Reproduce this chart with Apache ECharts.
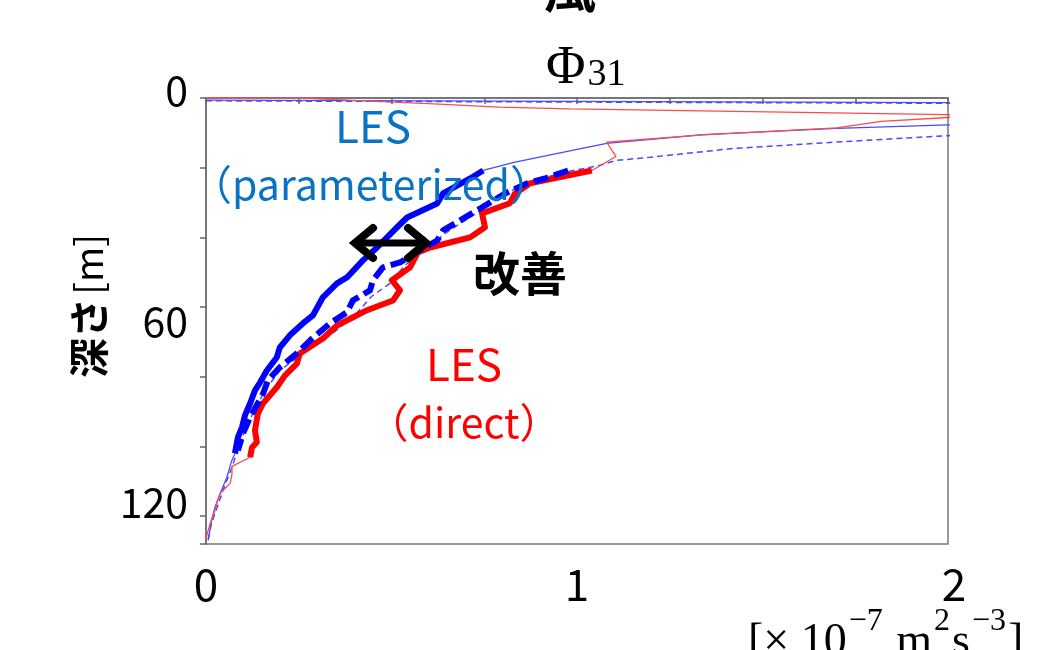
<!DOCTYPE html>
<html><head><meta charset="utf-8">
<script src="https://cdn.jsdelivr.net/npm/echarts@6/dist/echarts.min.js"></script>
<style>html,body{margin:0;padding:0;background:#fff}#c{width:1052px;height:650px}</style>
</head><body><div id="c"></div>
<script>
// ---- data: [value (x10^-7 m^2 s^-3), depth (m)] ----
const xLabelTicks = [0, 1, 2];
const yLabelTicks = [0, 60, 120];

const directSurface = [[0,0],[0.275,0.1],[0.6,1.6],[0.79,2.6],[0.98,3.1],[2.0,4.8],[2.5,5.2],[2.0,5.6],[1.82,6.7],[1.70,8.6],[1.34,10.6],[1.08,12.7],[1.105,16.8],[1.06,19.6]];
const directThick = [[1.040,20.8],[0.873,24.5],[0.865,25.1],[0.833,27.4],[0.819,30.2],[0.744,33.1],[0.752,37.1],[0.712,40.0],[0.604,42.9],[0.571,44.3],[0.550,48.6],[0.501,52.3],[0.523,55.2],[0.504,58.1],[0.434,60.9],[0.353,65.3],[0.315,69.0],[0.253,73.3],[0.245,76.2],[0.213,79.6],[0.191,83.0],[0.154,87.6],[0.140,90.5],[0.132,95.4],[0.137,98.8],[0.124,100.3],[0.119,103.1]];
const directBottom = [[0.070,105.7],[0.070,108.0],[0.065,110.6],[0.038,113.5],[0.030,115.8],[0.027,117.5],[0.011,122.1],[0.0,126.5]];

const paramSurface = [[0,0.6],[2.5,1.5],[2.4,7.5],[2.0,7.7],[1.70,8.7],[1.34,10.5],[1.08,13.0],[1.01,14.5],[0.83,18.5]];
const paramThick = [[0.747,20.8],[0.712,23.1],[0.639,27.4],[0.623,30.3],[0.542,34.3],[0.515,37.1],[0.488,40.0],[0.461,42.9],[0.423,46.6],[0.380,51.5],[0.353,53.2],[0.315,57.2],[0.288,62.4],[0.261,64.7],[0.226,68.1],[0.199,71.6],[0.191,74.4],[0.164,78.2],[0.146,81.6],[0.132,83.9],[0.119,87.6],[0.105,91.1],[0.097,94.5],[0.086,97.4],[0.078,102.0]];
const paramBottom = [[0.069,104.2],[0.056,108.9],[0.038,113.6],[0.024,117.5],[0.015,121.3],[0.006,127.0]];

const dashedSurface = [[0,0.8],[2.5,1.7],[2.4,10.6],[2.0,10.8],[1.69,12.7],[1.42,14.5],[1.197,17.0],[1.107,17.9],[1.062,19.3]];
const dashedThick = [[0.976,20.8],[0.914,23.1],[0.865,24.5],[0.806,27.4],[0.739,31.7],[0.685,35.1],[0.639,38.0],[0.623,40.9],[0.577,43.7],[0.523,47.2],[0.477,48.6],[0.450,52.3],[0.442,55.2],[0.396,58.1],[0.380,61.5],[0.334,64.7],[0.280,69.6],[0.245,73.3],[0.199,77.3],[0.167,81.0],[0.154,84.8],[0.119,91.6],[0.100,96.2],[0.086,101.1]];
const dashedThinMid = [[0.954,21.6],[0.846,25.1],[0.739,32.3],[0.644,38.9],[0.590,43.7],[0.536,48.0],[0.496,53.2],[0.447,56.9],[0.396,62.9],[0.334,68.1],[0.253,73.9],[0.199,78.2],[0.159,83.9],[0.124,91.1],[0.100,96.8],[0.081,102.5]];
const dashedBottom = [[0.068,106.5],[0.048,112.0],[0.030,117.5],[0.015,122.0],[0.004,127.5]];

const SANS = "'Noto Sans CJK JP', 'Noto Sans', sans-serif";
const SERIF = "'Liberation Serif', 'DejaVu Serif', serif";

const chart = echarts.init(document.getElementById('c'), null, {renderer: 'canvas'});

function thin(data, color, type, w) {
  return {type: 'line', data: data, symbol: 'none', silent: true, z: 2, clip: true,
    lineStyle: {color: color, width: w, type: type}};
}
function thick(data, color, type) {
  return {type: 'line', data: data, symbol: 'none', silent: true, z: 3, clip: true,
    lineStyle: {color: color, width: 6, type: type, cap: 'butt', join: 'round'}};
}

const option = {
  backgroundColor: '#ffffff',
  animation: false,
  grid: {left: 206, right: 104, top: 98, bottom: 106, show: true, borderColor: '#777', borderWidth: 1.5, outerBoundsMode: 'none', containLabel: false},
  xAxis: {
    type: 'value', min: 0, max: 2, interval: 0.25,
    axisLine: {show: true, lineStyle: {color: '#777', width: 2}},
    axisTick: {show: true, inside: false, length: 6, lineStyle: {color: '#666', width: 1.5}},
    splitLine: {show: false},
    axisLabel: {
      margin: 18, color: '#000', fontSize: 44, fontFamily: SANS,
      formatter: function (v) {
        const r = Math.round(v);
        if (Math.abs(v - r) < 1e-9 && xLabelTicks.indexOf(r) >= 0) return r === 2 ? '{e|' + r + '}' : String(r);
        return '';
      },
      rich: {e: {fontSize: 44, fontFamily: SANS, color: '#000', padding: [0, 0, 0, 12]}}
    }
  },
  yAxis: {
    type: 'value', min: 0, max: 128, interval: 20, inverse: true,
    name: '{b|深さ} {n|[m]}', nameLocation: 'middle', nameRotate: 90, nameGap: 94,
    nameTextStyle: {padding: [0, 0, 0, 30],
      rich: {b: {fontSize: 40, fontWeight: 'bold', fontFamily: SANS, color: '#000'},
             n: {fontSize: 38, fontFamily: SANS, color: '#000'}}},
    axisLine: {show: true, lineStyle: {color: '#777', width: 2}},
    axisTick: {show: true, inside: false, length: 6, lineStyle: {color: '#666', width: 1.5}},
    splitLine: {show: false},
    axisLabel: {
      margin: 18, color: '#000', fontSize: 40, fontFamily: SANS,
      formatter: function (v) {
        if (yLabelTicks.indexOf(v) < 0) return '';
        if (v === 0) return '{a|0}';
        if (v === 60) return '{b|60}';
        return '{c|' + v + '}';
      },
      rich: {
        a: {fontSize: 41, fontFamily: SANS, color: '#000', padding: [0, 0, 16, 0]},
        b: {fontSize: 41, fontFamily: SANS, color: '#000', padding: [28, 0, 0, 0]},
        c: {fontSize: 41, fontFamily: SANS, color: '#000', padding: [0, 0, 28, 0]}
      }
    }
  },
  series: [
    thin(dashedSurface.concat(dashedThinMid, dashedBottom), '#4a4aff', [6, 4], 1.5),
    thin(paramSurface.concat(paramThick, paramBottom), '#4a4aff', 'solid', 1.3),
    thin(directSurface.concat(directThick, directBottom), '#ff4a4a', 'solid', 1.3),
    thick(directThick, '#ff0000', 'solid'),
    thick(dashedThick, '#0000ff', [15, 6]),
    thick(paramThick, '#0000ff', 'solid')
  ],
  graphic: [
    {type: 'text', silent: true, z: 10,
      style: {x: 570, y: 14, text: '風', font: "bold 52px 'Noto Sans CJK JP'", fill: '#000', textAlign: 'center', textVerticalAlign: 'bottom'}},
    {type: 'text', silent: true, z: 10,
      style: {x: 546, y: 42, text: '{p|Φ}{s|31}', fill: '#000',
        rich: {p: {fontSize: 54, fontFamily: SERIF, lineHeight: 52, verticalAlign: 'top', fill: '#000'},
               s: {fontSize: 38, fontFamily: SERIF, lineHeight: 30, verticalAlign: 'bottom', fill: '#000', padding: [0, 0, 0, 2]}}}},
    {type: 'text', silent: true, z: 10,
      style: {x: 748, y: 606, text: '{b|[× 10}{s|−7}{b| m}{s|2}{b|s}{s|−3}{b|]}', fill: '#000',
        rich: {b: {fontSize: 46, fontFamily: SERIF, lineHeight: 60, verticalAlign: 'bottom', fill: '#000'},
               s: {fontSize: 32, fontFamily: SERIF, lineHeight: 32, verticalAlign: 'top', fill: '#000', padding: [0, 2, 0, 2]}}}},
    {type: 'text', silent: true, z: 10,
      style: {x: 373, y: 126, text: 'LES', font: "44px 'Noto Sans CJK JP'", fill: '#0a72c2', textAlign: 'center', textVerticalAlign: 'middle'}},
    {type: 'text', silent: true, z: 10,
      style: {x: 371, y: 184, text: '（parameterized）', font: "41px 'Noto Sans CJK JP'", fill: '#0a72c2', textAlign: 'center', textVerticalAlign: 'middle'}},
    {type: 'text', silent: true, z: 10,
      style: {x: 520, y: 273, text: '改善', font: "bold 47px 'Noto Sans CJK JP'", fill: '#000', textAlign: 'center', textVerticalAlign: 'middle'}},
    {type: 'text', silent: true, z: 10,
      style: {x: 464, y: 364, text: 'LES', font: "44px 'Noto Sans CJK JP'", fill: '#ff0000', textAlign: 'center', textVerticalAlign: 'middle'}},
    {type: 'text', silent: true, z: 10,
      style: {x: 464, y: 422, text: '（direct）', font: "41px 'Noto Sans CJK JP'", fill: '#ff0000', textAlign: 'center', textVerticalAlign: 'middle'}},
    {type: 'polyline', silent: true, z: 10,
      shape: {points: [[373, 228], [355, 243], [373, 258]]},
      style: {stroke: '#000', lineWidth: 8, fill: null, lineCap: 'round', lineJoin: 'miter'}},
    {type: 'polyline', silent: true, z: 10,
      shape: {points: [[408, 228], [426, 243], [408, 258]]},
      style: {stroke: '#000', lineWidth: 8, fill: null, lineCap: 'round', lineJoin: 'miter'}},
    {type: 'line', silent: true, z: 10,
      shape: {x1: 357, y1: 243, x2: 424, y2: 243},
      style: {stroke: '#000', lineWidth: 7}}
  ]
};
chart.setOption(option);
</script>
</body></html>
